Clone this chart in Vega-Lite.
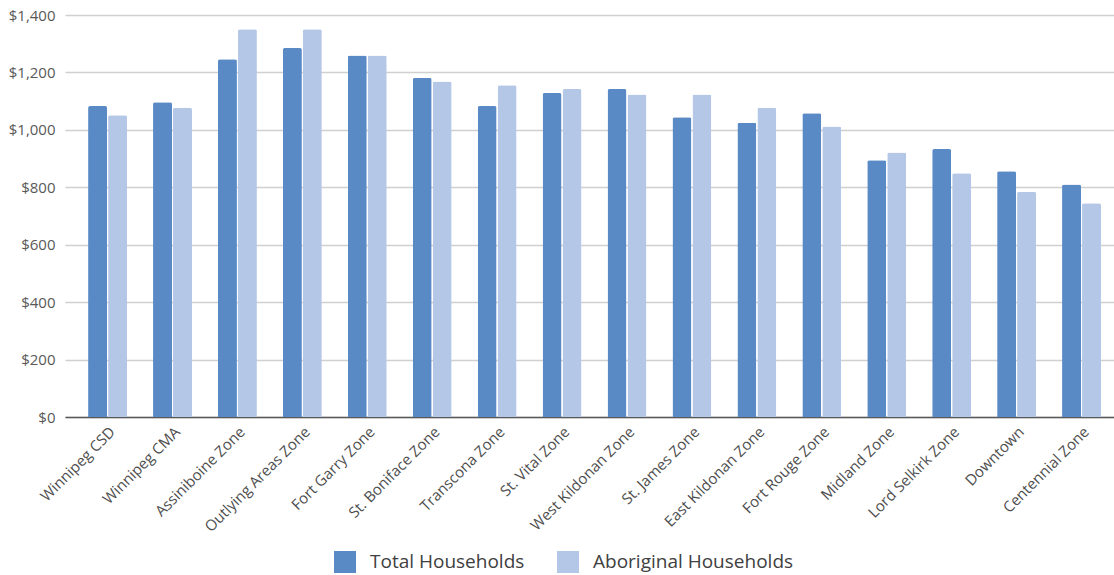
{
  "$schema": "https://vega.github.io/schema/vega-lite/v6.json",
  "width": 1049,
  "height": 402,
  "padding": {"left": 8, "top": 8, "right": 0, "bottom": 0},
  "background": "white",
  "data": {
    "values": [
      {"zone": "Winnipeg CSD", "series": "Total Households", "value": 1083},
      {"zone": "Winnipeg CSD", "series": "Aboriginal Households", "value": 1051},
      {"zone": "Winnipeg CMA", "series": "Total Households", "value": 1096},
      {"zone": "Winnipeg CMA", "series": "Aboriginal Households", "value": 1077},
      {"zone": "Assiniboine Zone", "series": "Total Households", "value": 1246},
      {"zone": "Assiniboine Zone", "series": "Aboriginal Households", "value": 1350},
      {"zone": "Outlying Areas Zone", "series": "Total Households", "value": 1285},
      {"zone": "Outlying Areas Zone", "series": "Aboriginal Households", "value": 1350},
      {"zone": "Fort Garry Zone", "series": "Total Households", "value": 1259},
      {"zone": "Fort Garry Zone", "series": "Aboriginal Households", "value": 1259},
      {"zone": "St. Boniface Zone", "series": "Total Households", "value": 1181},
      {"zone": "St. Boniface Zone", "series": "Aboriginal Households", "value": 1168},
      {"zone": "Transcona Zone", "series": "Total Households", "value": 1083},
      {"zone": "Transcona Zone", "series": "Aboriginal Households", "value": 1155},
      {"zone": "St. Vital Zone", "series": "Total Households", "value": 1128},
      {"zone": "St. Vital Zone", "series": "Aboriginal Households", "value": 1142},
      {"zone": "West Kildonan Zone", "series": "Total Households", "value": 1142},
      {"zone": "West Kildonan Zone", "series": "Aboriginal Households", "value": 1123},
      {"zone": "St. James Zone", "series": "Total Households", "value": 1044},
      {"zone": "St. James Zone", "series": "Aboriginal Households", "value": 1123},
      {"zone": "East Kildonan Zone", "series": "Total Households", "value": 1025},
      {"zone": "East Kildonan Zone", "series": "Aboriginal Households", "value": 1077},
      {"zone": "Fort Rouge Zone", "series": "Total Households", "value": 1058},
      {"zone": "Fort Rouge Zone", "series": "Aboriginal Households", "value": 1012},
      {"zone": "Midland Zone", "series": "Total Households", "value": 894},
      {"zone": "Midland Zone", "series": "Aboriginal Households", "value": 921},
      {"zone": "Lord Selkirk Zone", "series": "Total Households", "value": 933},
      {"zone": "Lord Selkirk Zone", "series": "Aboriginal Households", "value": 849},
      {"zone": "Downtown", "series": "Total Households", "value": 856},
      {"zone": "Downtown", "series": "Aboriginal Households", "value": 784},
      {"zone": "Centennial Zone", "series": "Total Households", "value": 810},
      {"zone": "Centennial Zone", "series": "Aboriginal Households", "value": 744}
    ]
  },
  "mark": {"type": "bar", "cornerRadiusTopLeft": 2, "cornerRadiusTopRight": 2},
  "encoding": {
    "x": {
      "field": "zone",
      "type": "nominal",
      "sort": null,
      "title": null,
      "scale": {"paddingInner": 0.4, "paddingOuter": 0.278, "align": 0.64},
      "axis": {
        "labelAngle": -45,
        "labelFontSize": 15,
        "labelColor": "#4D4D4D",
        "labelFont": "Open Sans",
        "ticks": false,
        "labelPadding": 7,
        "labelLimit": 300,
        "domainColor": "#595959",
        "domainWidth": 1.5,
        "grid": false
      }
    },
    "y": {
      "field": "value",
      "type": "quantitative",
      "title": null,
      "scale": {"domain": [0, 1400]},
      "axis": {
        "values": [0, 200, 400, 600, 800, 1000, 1200, 1400],
        "format": "$,.0f",
        "labelFontSize": 15,
        "labelColor": "#595959",
        "labelFont": "Open Sans",
        "labelPadding": 10,
        "ticks": false,
        "domain": false,
        "gridColor": "#D0D0D0",
        "gridWidth": 1.5
      }
    },
    "xOffset": {
      "field": "series",
      "type": "nominal",
      "sort": ["Total Households", "Aboriginal Households"],
      "scale": {"paddingInner": 0.05}
    },
    "color": {
      "field": "series",
      "type": "nominal",
      "sort": ["Total Households", "Aboriginal Households"],
      "scale": {
        "domain": ["Total Households", "Aboriginal Households"],
        "range": ["#5A8AC6", "#B4C7E7"]
      },
      "legend": {
        "title": null,
        "orient": "none",
        "legendX": 269,
        "legendY": 536,
        "direction": "horizontal",
        "symbolType": "square",
        "symbolSize": 484,
        "symbolStrokeWidth": 0,
        "symbolOpacity": 1,
        "labelFontSize": 19,
        "labelFont": "Open Sans",
        "labelColor": "#404040",
        "labelOffset": 14,
        "labelLimit": 400,
        "columnPadding": 32
      }
    }
  },
  "config": {
    "view": {"stroke": null}
  }
}
